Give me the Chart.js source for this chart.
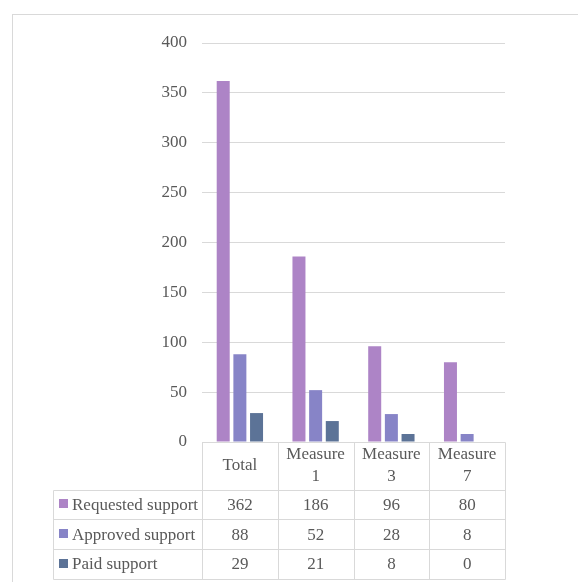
<!DOCTYPE html>
<html>
<head>
<meta charset="utf-8">
<script src="https://cdn.jsdelivr.net/npm/chart.js@4"></script>
<style>
  html,body{margin:0;padding:0;background:#fff;}
  #wrap{width:578px;height:582px;position:relative;}
</style>
</head>
<body>
<div id="wrap"><canvas id="chart" width="578" height="582"></canvas></div>
<script>
// ================= Data =================
const categories = ['Total', 'Measure 1', 'Measure 3', 'Measure 7'];
const seriesNames = ['Requested support', 'Approved support', 'Paid support'];
const requested = [362, 186, 96, 80];
const approved = [88, 52, 28, 8];
const paid = [29, 21, 8, 0];
const yTicks = [0, 50, 100, 150, 200, 250, 300, 350, 400];

const colors = ['#ad84c6', '#8784c7', '#5c7397'];
const textColor = '#595959';
const lineColor = '#d9d9d9';
const fontFamily = "'Times New Roman', 'Liberation Serif', 'DejaVu Serif', serif";
const fontSize = 17;

const seriesValues = [requested, approved, paid];

// ================= Data table + frame =================
const tablePlugin = {
    id: 'dataTable',
    afterDraw(chart){
        const ctx = chart.ctx;
        const x = chart.scales.x;
        const area = chart.chartArea;
        const n = categories.length;
        const colW = (x.right - x.left) / n;
        const top = Math.round(area.bottom) + 0.5;
        const headH = 47;
        const rowH = 29.7;
        const legendLeft = 53.5;
        const right = Math.round(x.right) + 0.5;
        const rowsTop = top + headH;
        const bottom = rowsTop + rowH * seriesNames.length;

        ctx.save();
        // outer frame
        ctx.strokeStyle = lineColor;
        ctx.lineWidth = 1;
        ctx.strokeRect(12.5, 14.5, 640, 640);

        // table grid
        ctx.beginPath();
        ctx.moveTo(x.left, top); ctx.lineTo(right, top);
        for(let r=0; r<=seriesNames.length; r++){
            const y = Math.round(rowsTop + r*rowH) + 0.5;
            ctx.moveTo(legendLeft, y); ctx.lineTo(right, y);
        }
        for(let i=0; i<=n; i++){
            const xx = Math.round(x.left + i*colW) + 0.5;
            ctx.moveTo(xx, top); ctx.lineTo(xx, Math.round(bottom) + 0.5);
        }
        ctx.moveTo(legendLeft, Math.round(rowsTop)+0.5); ctx.lineTo(legendLeft, Math.round(bottom)+0.5);
        ctx.stroke();

        // header labels
        ctx.fillStyle = textColor;
        ctx.font = fontSize + 'px ' + fontFamily;
        ctx.textAlign = 'center';
        ctx.textBaseline = 'middle';
        categories.forEach((c,i)=>{
            const cx = x.getPixelForValue(i);
            const parts = c.split(' ');
            const lh = 22;
            const cy = top + headH/2;
            parts.forEach((p,k)=>{
                ctx.fillText(p, cx, cy + (k - (parts.length-1)/2)*lh);
            });
        });

        // series rows
        seriesNames.forEach((name,r)=>{
            const cy = rowsTop + r*rowH + rowH/2;
            ctx.fillStyle = colors[r];
            ctx.fillRect(59, Math.round(cy) - 5, 9, 9);
            ctx.fillStyle = textColor;
            ctx.textAlign = 'left';
            ctx.fillText(name, 72, cy + 1);
            ctx.textAlign = 'center';
            seriesValues[r].forEach((v,i)=>{
                ctx.fillText(String(v), x.getPixelForValue(i), cy + 1);
            });
        });
        ctx.restore();
    }
};

// ================= Chart =================
new Chart(document.getElementById('chart').getContext('2d'), {
    type: 'bar',
    data: {
        labels: categories,
        datasets: seriesNames.map((name,i)=>({
            label: name,
            data: seriesValues[i],
            backgroundColor: colors[i],
            borderWidth: 0,
            categoryPercentage: 0.66,
            barPercentage: 0.78
        }))
    },
    options: {
        responsive: false,
        animation: false,
        layout: { padding: { left: 0, right: 73, top: 43, bottom: 140 } },
        plugins: { legend: { display: false }, tooltip: { enabled: false } },
        scales: {
            x: { display: false },
            y: {
                min: yTicks[0],
                max: yTicks[yTicks.length-1],
                afterFit: s => { s.width = 202; },
                afterBuildTicks: s => { s.ticks = yTicks.map(v=>({value:v})); },
                ticks: {
                    padding: 15,
                    color: textColor,
                    font: { family: fontFamily, size: fontSize }
                },
                grid: { color: lineColor, drawTicks: false, lineWidth: 1 },
                border: { display: false }
            }
        }
    },
    plugins: [tablePlugin]
});
</script>
</body>
</html>
